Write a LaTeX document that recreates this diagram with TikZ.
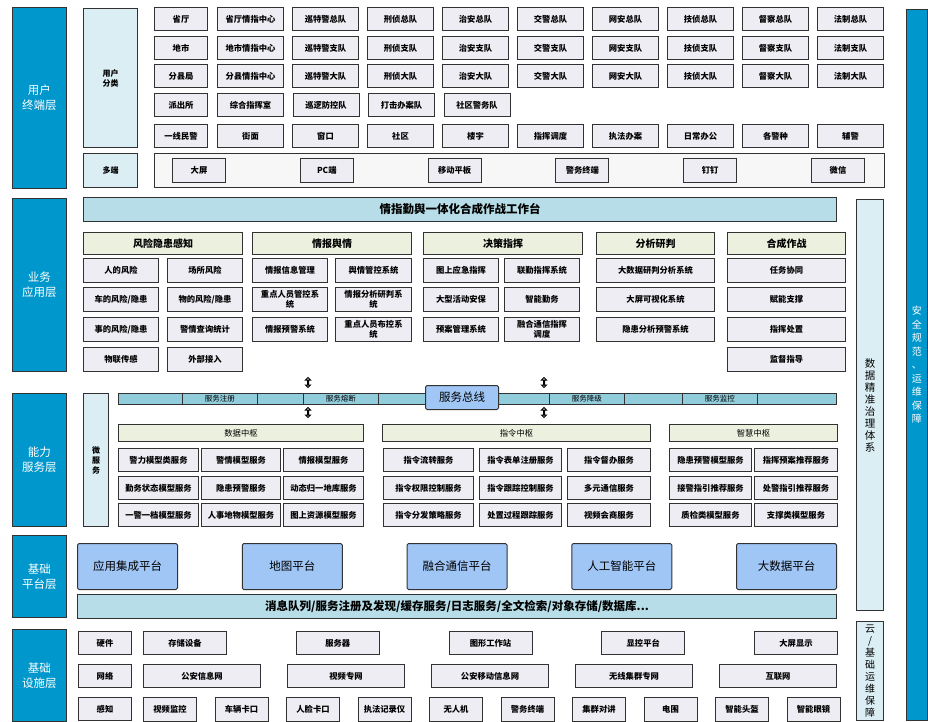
\documentclass[tikz,border=0pt]{standalone}
\usepackage{fontspec}
\setmainfont{Noto Sans CJK SC}
\usepackage{tikz}
\usetikzlibrary{shapes.arrows}
\definecolor{layerblue}{RGB}{0,152,204}
\definecolor{sidebg}{RGB}{219,238,244}
\definecolor{itembg}{RGB}{239,237,244}
\definecolor{headbg}{RGB}{235,241,222}
\definecolor{barbg}{RGB}{183,222,232}
\definecolor{busbg}{RGB}{146,205,220}
\definecolor{platbg}{RGB}{160,198,246}
\definecolor{edgegray}{RGB}{50,50,50}
\definecolor{multibg}{RGB}{247,247,248}
\tikzset{
  layer/.style={draw=edgegray, line width=0.8pt, fill=layerblue, text=white,
    font=\fontsize{11.5}{15}\selectfont, align=center, anchor=north west, inner sep=0pt},
  sidebox/.style={draw=edgegray, line width=1pt, fill=sidebg, font=\fontsize{8}{10}\selectfont\bfseries,
    align=center, anchor=north west, inner sep=0pt},
  item/.style={draw=edgegray, line width=1pt, fill=itembg, font=\fontsize{8.3}{10}\selectfont\bfseries,
    align=center, anchor=north west, inner sep=0pt, minimum height=23pt},
  ghead/.style={draw=edgegray, line width=1pt, fill=headbg, font=\fontsize{10}{12}\selectfont\bfseries,
    anchor=north west, inner sep=0pt, minimum height=22pt},
  chead/.style={ghead, font=\fontsize{8.3}{10}\selectfont, minimum height=17pt},
  wbar/.style={draw=edgegray, line width=1pt, fill=barbg, font=\fontsize{11.5}{13}\selectfont\bfseries,
    anchor=north west, inner sep=0pt, minimum height=24pt},
  busseg/.style={draw=edgegray, line width=0.8pt, fill=busbg, font=\fontsize{7.5}{9}\selectfont,
    anchor=north west, inner sep=0pt, minimum height=11pt},
  plat/.style={draw=edgegray, line width=1pt, fill=platbg, rounded corners=1.5pt,
    font=\fontsize{11.5}{13}\selectfont, anchor=north west, inner sep=0pt},
  dbarrow/.style={double arrow, draw=black, line width=1pt, fill=sidebg, rotate=90,
    minimum height=10pt, minimum width=5pt, double arrow head extend=2pt, inner sep=0pt},
}

\begin{document}
\begin{tikzpicture}[x=1pt, y=-1pt]
  \useasboundingbox (0,0) rectangle (928,722);

  % layer labels
  \node[layer, minimum width=54pt, minimum height=181pt] (lu) at (12,7) {用户\\终端层};
  \node[layer, minimum width=54pt, minimum height=173pt] (lb) at (12,198) {业务\\应用层};
  \node[layer, minimum width=54pt, minimum height=133pt] (lc) at (12,393) {能力\\服务层};
  \node[layer, minimum width=54pt, minimum height=82pt] (lp) at (12,535) {基础\\平台层};
  \node[layer, minimum width=54pt, minimum height=92pt] (li) at (12,629) {基础\\设施层};
  \node[layer, minimum width=21pt, minimum height=711pt, font=\fontsize{10}{13.5}\selectfont] (safe) at (906,9)
    {安\\全\\规\\范\\、\\运\\维\\保\\障};
  \node[sidebox, minimum width=27pt, minimum height=411pt, font=\fontsize{10.5}{12}\selectfont] (gov) at (856,199)
    {数\\据\\精\\准\\治\\理\\体\\系};
  \node[sidebox, minimum width=27pt, minimum height=99pt, font=\fontsize{10}{12}\selectfont] (ops) at (856,621)
    {云\\/\\基\\础\\运\\维\\保\\障};

  % user terminal layer
  \node[sidebox, minimum width=54pt, minimum height=139pt] (ucat) at (83,8) {用户\\分类};
  \node[sidebox, minimum width=54pt, minimum height=34pt] (mcat) at (83,153) {多端};
  \node[draw=edgegray, line width=1pt, fill=multibg, anchor=north west, inner sep=0pt,
    minimum width=730pt, minimum height=34pt] (mbox) at (154,153) {};
  \foreach \t/\y [count=\r] in {省厅/7, 地市/36, 分县局/64, 派出所/93, 一线民警/124}
    \node[item, minimum width=53pt] (u\r c0) at (154,\y) {\t};
  \foreach \t [count=\i] in {省厅情指中心,巡特警总队,刑侦总队,治安总队,交警总队,网安总队,技侦总队,督察总队,法制总队}
    \node[item, minimum width=66pt] (u1c\i) at (217+75*\i-75,7) {\t};
  \foreach \t [count=\i] in {地市情指中心,巡特警支队,刑侦支队,治安支队,交警支队,网安支队,技侦支队,督察支队,法制支队}
    \node[item, minimum width=66pt] (u2c\i) at (217+75*\i-75,36) {\t};
  \foreach \t [count=\i] in {分县情指中心,巡特警大队,刑侦大队,治安大队,交警大队,网安大队,技侦大队,督察大队,法制大队}
    \node[item, minimum width=66pt] (u3c\i) at (217+75*\i-75,64) {\t};
  \foreach \t [count=\i] in {综合指挥室,巡逻防控队,打击办案队,社区警务队}
    \node[item, minimum width=66pt] (u4c\i) at (217+75.5*\i-75.5,93) {\t};
  \foreach \t [count=\i] in {街面,窗口,社区,楼宇,指挥调度,执法办案,日常办公,各警种,辅警}
    \node[item, minimum width=66pt] (u5c\i) at (217+75*\i-75,124) {\t};
  \foreach \t [count=\i] in {大屏,PC端,移动平板,警务终端,钉钉,微信}
    \node[item, minimum width=53pt, minimum height=24pt] (m\i) at (172+127.8*\i-127.8,158) {\t};

  % business application layer
  \node[wbar, minimum width=753pt] (desk) at (83,197) {情指勤舆一体化合成作战工作台};
  \node[ghead, minimum width=159pt] (g1) at (83,232) {风险隐患感知};
  \node[ghead, minimum width=159pt] (g2) at (252,232) {情报舆情};
  \node[ghead, minimum width=159pt] (g3) at (423,232) {决策指挥};
  \node[ghead, minimum width=118pt] (g4) at (596,232) {分析研判};
  \node[ghead, minimum width=118pt] (g5) at (727,232) {合成作战};
  \node[item, minimum width=75pt, minimum height=24pt] (g1l1) at (83,258) {人的风险};
  \node[item, minimum width=75pt, minimum height=24pt] (g1r1) at (167,258) {场所风险};
  \node[item, minimum width=75pt, minimum height=24pt] (g1l2) at (83,287) {车的风险/隐患};
  \node[item, minimum width=75pt, minimum height=24pt] (g1r2) at (167,287) {物的风险/隐患};
  \node[item, minimum width=75pt, minimum height=24pt] (g1l3) at (83,317) {事的风险/隐患};
  \node[item, minimum width=75pt, minimum height=24pt] (g1r3) at (167,317) {警情查询统计};
  \node[item, minimum width=75pt, minimum height=24pt] (g1l4) at (83,347) {物联传感};
  \node[item, minimum width=75pt, minimum height=24pt] (g1r4) at (167,347) {外部接入};
  \node[item, minimum width=75pt, minimum height=24pt] (g2l1) at (252,258) {情报信息管理};
  \node[item, minimum width=76pt, minimum height=24pt] (g2r1) at (335,258) {舆情管控系统};
  \node[item, minimum width=75pt, minimum height=24pt] (g2l2) at (252,287) {重点人员管控系\\统};
  \node[item, minimum width=76pt, minimum height=24pt] (g2r2) at (335,287) {情报分析研判系\\统};
  \node[item, minimum width=75pt, minimum height=24pt] (g2l3) at (252,317) {情报预警系统};
  \node[item, minimum width=76pt, minimum height=24pt] (g2r3) at (335,317) {重点人员布控系\\统};
  \node[item, minimum width=75pt, minimum height=24pt] (g3l1) at (423,258) {图上应急指挥};
  \node[item, minimum width=75pt, minimum height=24pt] (g3r1) at (504,258) {联勤指挥系统};
  \node[item, minimum width=75pt, minimum height=24pt] (g3l2) at (423,287) {大型活动安保};
  \node[item, minimum width=75pt, minimum height=24pt] (g3r2) at (504,287) {智能勤务};
  \node[item, minimum width=75pt, minimum height=24pt] (g3l3) at (423,317) {预案管理系统};
  \node[item, minimum width=75pt, minimum height=24pt] (g3r3) at (504,317) {融合通信指挥\\调度};
  \foreach \t/\y [count=\r] in {大数据研判分析系统/258, 大屏可视化系统/287, 隐患分析预警系统/317}
    \node[item, minimum width=118pt, minimum height=24pt] (g4i\r) at (596,\y) {\t};
  \foreach \t/\y [count=\r] in {任务协同/258, 赋能支撑/287, 指挥处置/317, 监督指导/347}
    \node[item, minimum width=118pt, minimum height=24pt] (g5i\r) at (727,\y) {\t};

  % service bus
  \node[dbarrow] (a1) at (308,382.5) {};
  \node[dbarrow] (a2) at (544,382.5) {};
  \node[dbarrow] (a3) at (308,412.5) {};
  \node[dbarrow] (a4) at (544,412.5) {};
  \node[busseg, minimum width=718pt] (bus) at (118,393) {};
  \node[busseg, minimum width=75pt] (s1) at (182,393) {服务注册};
  \node[busseg, minimum width=75pt] (s2) at (303,393) {服务熔断};
  \node[busseg, minimum width=75pt] (s3) at (549,393) {服务降级};
  \node[busseg, minimum width=75pt] (s4) at (682,393) {服务监控};
  \node[plat, minimum width=73pt, minimum height=24pt] (sbus) at (425,385) {服务总线};

  % capability service layer
  \node[sidebox, minimum width=25pt, minimum height=133pt] (msvc) at (83,393) {微\\服\\务};
  \node[chead, minimum width=245pt] (c1) at (118,424) {数据中枢};
  \node[chead, minimum width=268pt] (c2) at (382,424) {指令中枢};
  \node[chead, minimum width=168pt] (c3) at (669,424) {智慧中枢};
  \foreach \a/\b/\c/\y [count=\r] in {警力模型类服务/警情模型服务/情报模型服务/448,
      勤务状态模型服务/隐患预警服务/动态归一地库服务/476, 一警一档模型服务/人事地物模型服务/图上资源模型服务/503} {
    \node[item, minimum width=80pt] (d\r a) at (118,\y) {\a};
    \node[item, minimum width=79pt] (d\r b) at (201,\y) {\b};
    \node[item, minimum width=80pt] (d\r c) at (283,\y) {\c};
  }
  \foreach \a/\b/\c/\y [count=\r] in {指令流转服务/指令表单注册服务/指令督办服务/448,
      指令权限控制服务/指令跟踪控制服务/多元通信服务/476, 指令分发策略服务/处置过程跟踪服务/视频会商服务/503} {
    \node[item, minimum width=90pt] (k\r a) at (383,\y) {\a};
    \node[item, minimum width=82pt] (k\r b) at (479,\y) {\b};
    \node[item, minimum width=83pt] (k\r c) at (567,\y) {\c};
  }
  \foreach \a/\b/\y [count=\r] in {隐患预警模型服务/指挥预案推荐服务/448,
      接警指引推荐服务/处警指引推荐服务/476, 质检类模型服务/支撑类模型服务/503} {
    \node[item, minimum width=82pt] (w\r a) at (669,\y) {\a};
    \node[item, minimum width=83pt] (w\r b) at (754,\y) {\b};
  }

  % base platform layer
  \foreach \t [count=\i] in {应用集成平台,地图平台,融合通信平台,人工智能平台,大数据平台}
    \node[plat, minimum width=100pt, minimum height=46pt] (p\i) at (77+164.75*\i-164.75,543) {\t};
  \node[wbar, minimum width=759pt] (mq) at (77,594)
    {消息队列/服务注册及发现/缓存服务/日志服务/全文检索/对象存储/数据库...};

  % infrastructure layer
  \foreach \t/\y [count=\r] in {硬件/631, 网络/664, 感知/697}
    \node[item, minimum width=53pt] (i\r c0) at (78,\y) {\t};
  \foreach \t [count=\i] in {存储设备,服务器,图形工作站,显控平台,大屏显示}
    \node[item, minimum width=83pt] (i1c\i) at (143+152.75*\i-152.75,631) {\t};
  \foreach \t [count=\i] in {公安信息网,视频专网,公安移动信息网,无线集群专网,互联网}
    \node[item, minimum width=117pt] (i2c\i) at (143+144*\i-144,664) {\t};
  \foreach \t [count=\i] in {视频监控,车辆卡口,人脸卡口,执法记录仪,无人机,警务终端,集群对讲,电围,智能头盔,智能眼镜}
    \node[item, minimum width=53pt, minimum height=24pt] (i3c\i) at (143+71.5*\i-71.5,697) {\t};
\end{tikzpicture}
\end{document}
